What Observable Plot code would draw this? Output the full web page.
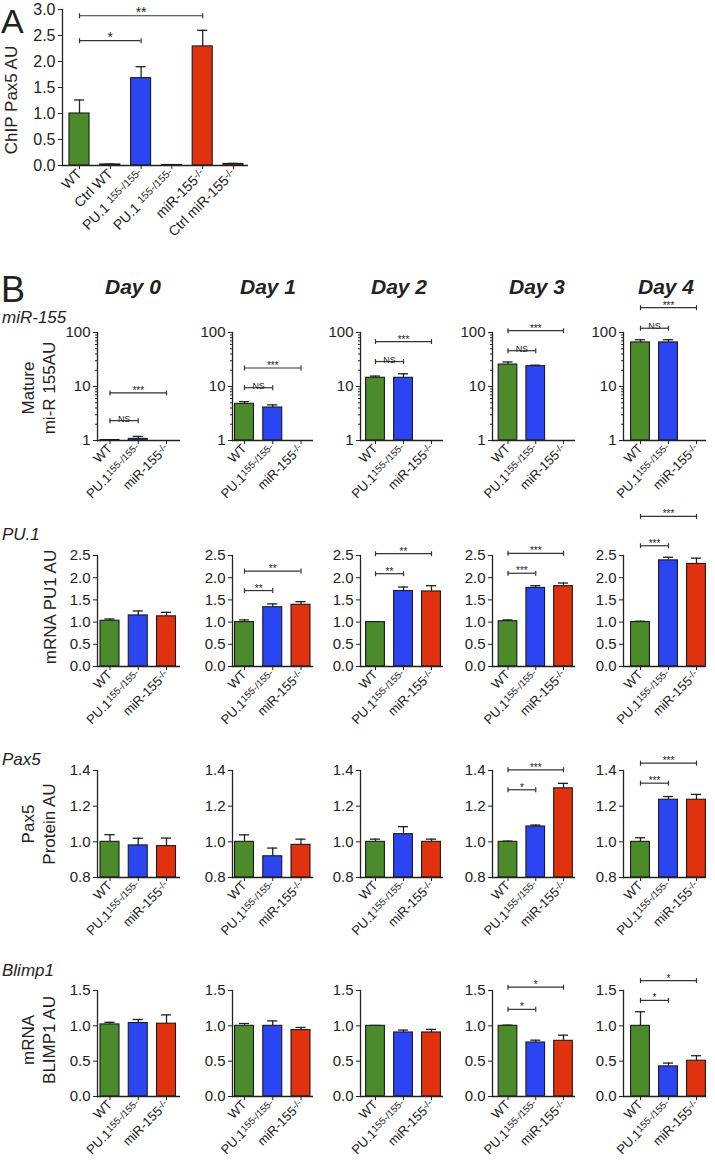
<!DOCTYPE html>
<html><head><meta charset="utf-8">
<script src="https://cdn.jsdelivr.net/npm/d3@7"></script>
<script src="https://cdn.jsdelivr.net/npm/@observablehq/plot@0.6"></script>
<style>
body{margin:0;background:#fff;}
#fig{position:relative;width:715px;height:1169px;overflow:hidden;font-family:"Liberation Sans",Arial,sans-serif;background:#fff;}
#fig svg{position:absolute;}
</style></head><body><div id="fig"></div>
<script>
// ---------------- DATA ----------------
// Panel A
const labelsA = [["WT",""],["Ctrl WT",""],["PU.1 ","155-/155-"],["PU.1 ","155-/155-"],["miR-155","-/-"],["Ctrl miR-155","-/-"]];
const colorsA = ["#4b8b2c","#4b8b2c","#2c45f2","#2c45f2","#e1320f","#e1320f"];
const chipMean = [1.0, 0.02, 1.68, 0.01, 2.29, 0.03];
const chipErr  = [0.26, 0.005, 0.22, 0.005, 0.31, 0.01];
const chipTicks = [0, 0.5, 1.0, 1.5, 2.0, 2.5, 3.0];
const chipSig = [[0, 2, 2.40, "*"], [0, 4, 2.88, "**"]];

// Panel B
const dayLabels = ["Day 0","Day 1","Day 2","Day 3","Day 4"];
const groupLabelsB = [["WT",""],["PU.1","155-/155-"],["miR-155","-/-"]];
const groupColors = ["#4b8b2c","#2c45f2","#e1320f"];
const rowNames = ["miR-155","PU.1","Pax5","Blimp1"];
const rowTitles = [["Mature","mi-R 155AU"],["mRNA PU1 AU"],["Pax5","Protein AU"],["mRNA","BLIMP1 AU"]];

// miR-155 (log scale)
const mir155Mean = [[1.02,1.07,0],[4.77,4.08,0],[14.5,14.5,0],[25.5,23.8,0],[65.5,65.5,0]];
const mir155Err  = [[0.01,0.12,0],[0.48,0.49,0],[1.1,2.7,0],[3.0,1.0,0],[8,8,0]];
const mir155Ticks = [1, 10, 100];
const mir155Minor = [2,3,4,5,6,7,8,9,20,30,40,50,60,70,80,90];
const mir155Sig = [
  [[0,1,2.33,"NS"],[0,2,7.6,"***"]],
  [[0,1,9.5,"NS"],[0,2,22,"***"]],
  [[0,1,29,"NS"],[0,2,68,"***"]],
  [[0,1,46,"NS"],[0,2,108,"***"]],
  [[0,1,120,"NS"],[0,2,288,"***"]]
];

// PU.1 mRNA
const pu1Mean = [[1.03,1.15,1.13],[1.0,1.335,1.39],[1.0,1.70,1.69],[1.02,1.77,1.81],[1.0,2.39,2.31]];
const pu1Err  = [[0.04,0.10,0.09],[0.05,0.075,0.07],[0.01,0.09,0.13],[0.03,0.05,0.07],[0.02,0.07,0.13]];
const pu1Ticks = [0, 0.5, 1.0, 1.5, 2.0, 2.5];
const pu1Sig = [
  [],
  [[0,1,1.71,"**"],[0,2,2.15,"**"]],
  [[0,1,2.09,"**"],[0,2,2.54,"**"]],
  [[0,1,2.10,"***"],[0,2,2.55,"***"]],
  [[0,1,2.72,"***"],[0,2,3.38,"***"]]
];

// Pax5 protein
const pax5Mean = [[1.0,0.98,0.976],[1.0,0.919,0.983],[1.0,1.043,1.0],[1.0,1.086,1.30],[1.0,1.236,1.236]];
const pax5Err  = [[0.04,0.04,0.045],[0.039,0.046,0.032],[0.015,0.042,0.015],[0.004,0.008,0.028],[0.023,0.018,0.03]];
const pax5Ticks = [0.8, 1.0, 1.2, 1.4];
const pax5Sig = [
  [],[],[],
  [[0,1,1.292,"*"],[0,2,1.404,"***"]],
  [[0,1,1.329,"***"],[0,2,1.441,"***"]]
];

// Blimp1 mRNA
const blimpMean = [[1.02,1.04,1.03],[1.0,1.0,0.94],[1.0,0.906,0.906],[1.0,0.764,0.788],[1.0,0.426,0.506]];
const blimpErr  = [[0.03,0.05,0.125],[0.033,0.07,0.037],[0.005,0.034,0.044],[0.01,0.033,0.08],[0.2,0.047,0.071]];
const blimpTicks = [0, 0.5, 1.0, 1.5];
const blimpSig = [
  [],[],[],
  [[0,1,1.233,"*"],[0,2,1.547,"*"]],
  [[0,1,1.36,"*"],[0,2,1.64,"*"]]
];

// ---------------- LAYOUT ----------------
const FONT = '"Liberation Sans", Arial, sans-serif';
const INK = "#222";
const fig = document.getElementById("fig");
const vbar = {draw(ctx, size) { const r = Math.sqrt(size / Math.PI); ctx.moveTo(0, -r); ctx.lineTo(0, r); }};

const rowLayout = [
  {yTop: 332, yBottom: 440},
  {yTop: 555, yBottom: 666},
  {yTop: 770, yBottom: 877},
  {yTop: 990, yBottom: 1096}
];
const colLayout = [
  {A: 97,  centers: [109.5, 138, 166], E: 180},
  {A: 232, centers: [244, 272.5, 300.5], E: 313},
  {A: 360, centers: [375, 403, 431], E: 443},
  {A: 492, centers: [507.5, 535, 563], E: 575},
  {A: 623, centers: [640, 668, 696], E: 706}
];

function superscript(svg, labels) {
  const ns = "http://www.w3.org/2000/svg";
  const texts = svg.querySelectorAll('g[aria-label="x-axis tick label"] text');
  texts.forEach((t, i) => {
    const [main, sup] = labels[i];
    if (!sup) return;
    while (t.firstChild) t.removeChild(t.firstChild);
    const a = document.createElementNS(ns, "tspan"); a.textContent = main; t.appendChild(a);
    const b = document.createElementNS(ns, "tspan"); b.textContent = sup;
    b.setAttribute("font-size", "0.74em"); b.setAttribute("dy", "-0.3em"); t.appendChild(b);
  });
}

function drawPanel(o) {
  const ml = o.ml ?? 50, mr = o.mr ?? 8, mt = o.mt ?? 50, mb = o.mb ?? 90;
  const left = o.A - ml, top = o.yTop - mt;
  const width = ml + (o.E - o.A) + mr;
  const height = mt + (o.yBottom - o.yTop) + mb;
  const n = o.means.length;
  const idx = d3.range(n);
  const base = o.yDomain[0];
  const bars = idx.filter(i => o.means[i] > base);
  const errBars = bars.filter(i => o.errs[i] > 0);
  const sig = o.sig.map(([a, b, y, label]) => ({a, b, y, label}));
  const ends = sig.flatMap(s => [{x: s.a, y: s.y}, {x: s.b, y: s.y}]);
  const marks = [
    Plot.ruleX(errBars, {x: i => i, y1: i => o.means[i], y2: i => o.means[i] + o.errs[i], stroke: INK, strokeWidth: 1.3}),
    Plot.ruleY(errBars, {x1: i => i - o.capHalf, x2: i => i + o.capHalf, y: i => o.means[i] + o.errs[i], stroke: INK, strokeWidth: 1.3}),
    Plot.rect(bars, {x1: i => i - o.half, x2: i => i + o.half, y1: base, y2: i => o.means[i], fill: i => o.colors[i], stroke: "#1a1a1a", strokeWidth: 1.1}),
    Plot.ruleY([base], {stroke: INK, strokeWidth: 1.3}),
    Plot.frame({anchor: "left", stroke: INK, strokeWidth: 1.3}),
    Plot.axisX({ticks: idx, tickFormat: i => o.labels[i].join(""), tickRotate: -45, tickSize: 4, tickPadding: 2, fontSize: o.xFont, label: null}),
    Plot.axisY({ticks: o.ticks, tickFormat: o.fmt, tickSize: 4, tickPadding: 3, fontSize: o.yFont, label: null})
  ];
  if (o.minor) marks.push(Plot.axisY({ticks: o.minor, tickFormat: () => "", tickSize: 2, label: null}));
  if (sig.length) marks.push(
    Plot.ruleY(sig, {x1: "a", x2: "b", y: "y", stroke: "#333", strokeWidth: 1.2}),
    Plot.dot(ends, {x: "x", y: "y", r: 2.5, symbol: vbar, stroke: "#333", strokeWidth: 1.2, fill: "none"}),
    Plot.text(sig, {x: d => (d.a + d.b) / 2, y: "y", text: "label", dy: 1, lineAnchor: "bottom", fontSize: d => d.label === "NS" ? 9 : o.starSize, fill: "#222"})
  );
  const svg = Plot.plot({
    width, height, marginLeft: ml, marginRight: mr, marginTop: mt, marginBottom: mb,
    x: {type: "linear", domain: [0, n - 1], range: [o.centers[0] - left, o.centers[n - 1] - left]},
    y: {type: o.yType, domain: o.yDomain},
    style: {background: "transparent", overflow: "visible", fontFamily: FONT, color: INK},
    marks
  });
  svg.style.left = left + "px";
  svg.style.top = top + "px";
  superscript(svg, o.labels);
  fig.appendChild(svg);
}

// Panel A
drawPanel({
  A: 62, centers: [79, 110, 141, 171, 202, 233], E: 248, yTop: 9, yBottom: 165, mt: 9, ml: 44, mb: 100,
  yType: "linear", yDomain: [0, 3], ticks: chipTicks, fmt: d3.format(".1f"),
  means: chipMean, errs: chipErr, colors: colorsA, labels: labelsA, sig: chipSig,
  half: 0.325, capHalf: 0.165, xFont: 14, yFont: 16, starSize: 14
});

// Panel B
const rowsB = [
  {type: "log", domain: [1, 100], ticks: mir155Ticks, minor: mir155Minor, fmt: d => String(d), mean: mir155Mean, err: mir155Err, sig: mir155Sig},
  {type: "linear", domain: [0, 2.5], ticks: pu1Ticks, fmt: d3.format(".1f"), mean: pu1Mean, err: pu1Err, sig: pu1Sig},
  {type: "linear", domain: [0.8, 1.4], ticks: pax5Ticks, fmt: d3.format(".1f"), mean: pax5Mean, err: pax5Err, sig: pax5Sig},
  {type: "linear", domain: [0, 1.5], ticks: blimpTicks, fmt: d3.format(".1f"), mean: blimpMean, err: blimpErr, sig: blimpSig}
];
rowsB.forEach((r, ri) => {
  colLayout.forEach((c, ci) => {
    drawPanel({
      A: c.A, centers: c.centers, E: c.E, yTop: rowLayout[ri].yTop, yBottom: rowLayout[ri].yBottom,
      yType: r.type, yDomain: r.domain, ticks: r.ticks, minor: r.minor, fmt: r.fmt,
      means: r.mean[ci], errs: r.err[ci], colors: groupColors, labels: groupLabelsB, sig: r.sig[ci],
      half: 0.336, capHalf: 0.18, xFont: 13, yFont: 15, starSize: 10
    });
  });
});

// ---------------- TEXT OVERLAY ----------------
const ov = d3.select(fig).append("svg").attr("width", 715).attr("height", 1169)
  .style("left", "0px").style("top", "0px").style("pointer-events", "none")
  .attr("font-family", FONT).attr("fill", INK);
ov.append("text").attr("x", 1).attr("y", 33).attr("font-size", 34).text("A");
ov.append("text").attr("x", 1).attr("y", 302).attr("font-size", 36).text("B");
ov.append("text").attr("transform", "translate(17,100) rotate(-90)").attr("text-anchor", "middle").attr("font-size", 17).text("ChIP Pax5 AU");

const dayCenters = [133, 268, 399, 537, 666];
dayLabels.forEach((d, i) => {
  ov.append("text").attr("x", dayCenters[i]).attr("y", 294).attr("text-anchor", "middle")
    .attr("font-size", 21).attr("font-weight", "bold").attr("font-style", "italic").text(d);
});
const rowNameY = [323, 540, 765, 976];
const titleCenterY = [388, 607, 824, 1040];
rowNames.forEach((nm, i) => {
  ov.append("text").attr("x", 2).attr("y", rowNameY[i]).attr("font-size", 17).attr("font-style", "italic").text(nm);
  const lines = rowTitles[i];
  const xs = lines.length === 2 ? [34, 55] : [56];
  lines.forEach((ln, j) => {
    ov.append("text").attr("transform", `translate(${xs[j]},${titleCenterY[i]}) rotate(-90)`)
      .attr("text-anchor", "middle").attr("font-size", 17).text(ln);
  });
});
</script></body></html>
